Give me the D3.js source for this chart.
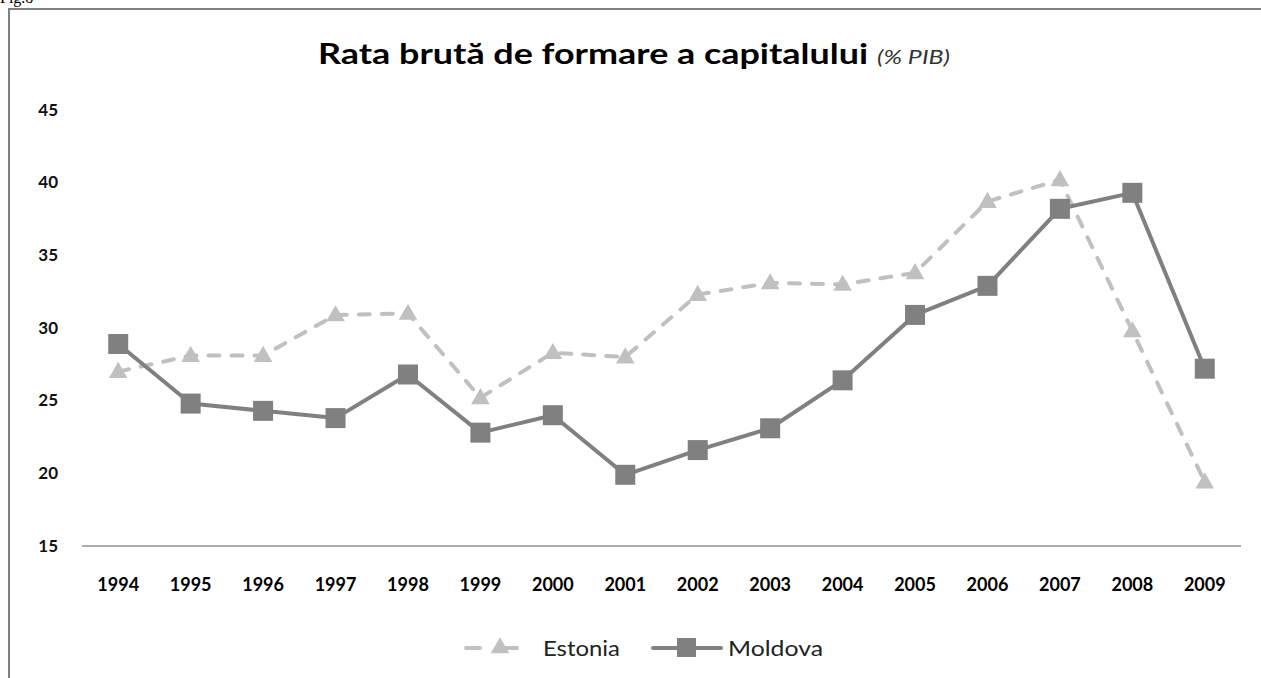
<!DOCTYPE html>
<html><head><meta charset="utf-8">
<script src="https://cdn.jsdelivr.net/npm/d3@7"></script>
<style>html,body{margin:0;padding:0;background:#fff;overflow:hidden}</style>
</head><body>
<script>
const years = ["1994","1995","1996","1997","1998","1999","2000","2001","2002","2003","2004","2005","2006","2007","2008","2009"];
const estonia = [27.0,28.1,28.1,30.9,31.0,25.2,28.3,28.0,32.3,33.1,33.0,33.8,38.7,40.2,29.8,19.4];
const moldova = [28.9,24.8,24.3,23.8,26.8,22.8,24.0,19.9,21.6,23.1,26.4,30.9,32.9,38.2,39.3,27.2];
const yTicks = [15,20,25,30,35,40,45];
const seriesNames = ["Estonia","Moldova"];

const W = 1261, H = 678;
const svg = d3.select("body").append("svg").attr("width", W).attr("height", H);
const FONT = "Lato, 'Open Sans', sans-serif";

// Fig label (cropped at top as in the source)
svg.append("text").attr("x", 0).attr("y", 3).attr("font-family", "Liberation Serif").attr("font-size", 16).attr("fill", "#000").text("Fig.8");

// frame (top and left)
svg.append("line").attr("x1", 8).attr("x2", W).attr("y1", 9).attr("y2", 9).attr("stroke", "#808080").attr("stroke-width", 2);
svg.append("line").attr("x1", 9).attr("x2", 9).attr("y1", 8).attr("y2", H).attr("stroke", "#808080").attr("stroke-width", 2);

const x = d3.scaleBand().domain(years).range([82, 1241]);
const y = d3.scaleLinear().domain([15, 45]).range([546, 110]);

// title
const title = svg.append("text").attr("x", 318).attr("y", 64).attr("font-family", FONT).attr("fill", "#000");
title.append("tspan").attr("font-weight", "bold").attr("font-size", 28).attr("textLength", 550).attr("lengthAdjust", "spacingAndGlyphs").text("Rata brută de formare a capitalului");
title.append("tspan").attr("dx", 9).attr("font-style", "italic").attr("font-size", 19).attr("fill", "#333").attr("textLength", 73).attr("lengthAdjust", "spacingAndGlyphs").text("(% PIB)");

// y axis labels
const yAxis = d3.axisLeft(y).tickValues(yTicks).tickSize(0).tickPadding(0);
const ya = svg.append("g").attr("transform", "translate(58,0)").call(yAxis);
ya.select(".domain").remove();
ya.selectAll("text").attr("font-family", FONT).attr("font-weight", "bold").attr("font-size", 17).attr("fill", "#111").attr("dy", "0.3em");

// x axis
const xAxis = d3.axisBottom(x).tickSize(0).tickPadding(0);
const xa = svg.append("g").attr("transform", "translate(0,546)").call(xAxis);
xa.select(".domain").attr("stroke", "#909090").attr("stroke-width", 1.5).attr("d", `M82,0H1241`);
xa.selectAll("text").attr("font-family", FONT).attr("font-weight", "bold").attr("font-size", 18).attr("fill", "#000").attr("y", 45).attr("dy", "0");

const cx = d => x(d) + x.bandwidth() / 2;
const line = d3.line().x((d, i) => cx(years[i])).y(d => y(d));

const estColor = "#c0c0c0", molColor = "#808080";

// Estonia
svg.append("path").datum(estonia).attr("d", line).attr("fill", "none").attr("stroke", estColor).attr("stroke-width", 4).attr("stroke-dasharray", "11,12").attr("stroke-linecap", "round");
const tri = d3.symbol().type(d3.symbolTriangle).size(150);
svg.selectAll(".est").data(estonia).enter().append("path").attr("class", "est")
  .attr("d", tri).attr("transform", (d, i) => `translate(${cx(years[i])},${y(d) + 1})`).attr("fill", estColor);

// Moldova
svg.append("path").datum(moldova).attr("d", line).attr("fill", "none").attr("stroke", molColor).attr("stroke-width", 4).attr("stroke-linejoin", "round");
svg.selectAll(".mol").data(moldova).enter().append("rect").attr("class", "mol")
  .attr("x", (d, i) => cx(years[i]) - 10).attr("y", d => y(d) - 10).attr("width", 20).attr("height", 20).attr("fill", molColor);

// legend
const lg = svg.append("g");
const ly = 648;
lg.append("line").attr("x1", 466).attr("x2", 480).attr("y1", ly).attr("y2", ly).attr("stroke", estColor).attr("stroke-width", 4).attr("stroke-linecap", "round");
lg.append("line").attr("x1", 500).attr("x2", 517).attr("y1", ly).attr("y2", ly).attr("stroke", estColor).attr("stroke-width", 4).attr("stroke-linecap", "round");
lg.append("path").attr("d", tri).attr("transform", `translate(500,${ly})`).attr("fill", estColor);
lg.append("text").attr("x", 543).attr("y", ly).attr("dy", "0.36em").attr("font-family", FONT).attr("font-size", 22).attr("fill", "#222").attr("textLength", 77).attr("lengthAdjust", "spacingAndGlyphs").text(seriesNames[0]);
lg.append("line").attr("x1", 653).attr("x2", 721).attr("y1", ly).attr("y2", ly).attr("stroke", molColor).attr("stroke-width", 4).attr("stroke-linecap", "round");
lg.append("rect").attr("x", 677).attr("y", ly - 10).attr("width", 19).attr("height", 19).attr("fill", molColor);
lg.append("text").attr("x", 728).attr("y", ly).attr("dy", "0.36em").attr("font-family", FONT).attr("font-size", 22).attr("fill", "#222").attr("textLength", 95).attr("lengthAdjust", "spacingAndGlyphs").text(seriesNames[1]);
</script>
</body></html>
